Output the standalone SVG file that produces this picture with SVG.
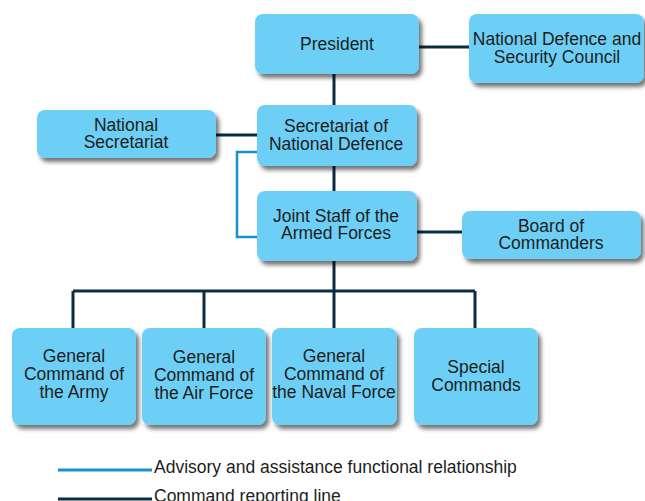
<svg xmlns="http://www.w3.org/2000/svg" width="645" height="501" viewBox="0 0 645 501">
<defs>
<filter id="sh" x="-10%" y="-10%" width="130%" height="140%">
<feDropShadow dx="3" dy="4" stdDeviation="2" flood-color="#000" flood-opacity="0.55"/>
</filter>
<style>
.box{fill:#6dcff6;filter:url(#sh)}
.t{font-family:"Liberation Sans",Arial,sans-serif;font-size:17.5px;fill:#1d1d1b;text-anchor:middle}
.lg{font-family:"Liberation Sans",Arial,sans-serif;font-size:17.5px;fill:#1d1d1b}
.cmd{stroke:#0b2d44;stroke-width:3;fill:none}
.adv{stroke:#1592c8;stroke-width:2.5;fill:none}
</style>
</defs>
<rect width="645" height="501" fill="#fff"/>
<g id="connectors">
<path class="cmd" d="M419 47H469"/>
<path class="cmd" d="M334 74V105"/>
<path class="cmd" d="M216 135H257"/>
<path class="cmd" d="M334 166V191"/>
<path class="cmd" d="M417 232H462"/>
<path class="cmd" d="M334 261V291"/>
<path class="cmd" d="M73 291H475"/>
<path class="cmd" d="M73 291V328M204 291V328M334 291V328M475 291V328"/>
<path class="adv" d="M257 152H237V237H257"/>
</g>
<g id="president"><rect class="box" x="255" y="14" width="164" height="60" rx="8"/><text class="t" x="337" y="50">President</text></g>
<g id="ndsc"><rect class="box" x="469" y="14" width="175" height="69" rx="8"/><text class="t" x="557" y="45">National Defence and</text><text class="t" x="557" y="63">Security Council</text></g>
<g id="national-secretariat"><rect class="box" x="37" y="110" width="179" height="48" rx="8"/><text class="t" x="126" y="131">National</text><text class="t" x="126" y="148">Secretariat</text></g>
<g id="secretariat-defence"><rect class="box" x="257" y="105" width="160" height="61" rx="8"/><text class="t" x="336" y="132">Secretariat of</text><text class="t" x="336" y="150">National Defence</text></g>
<g id="joint-staff"><rect class="box" x="257" y="191" width="160" height="70" rx="8"/><text class="t" x="336" y="222">Joint Staff of the</text><text class="t" x="336" y="239">Armed Forces</text></g>
<g id="board"><rect class="box" x="462" y="211" width="179" height="48" rx="8"/><text class="t" x="551" y="232">Board of</text><text class="t" x="551" y="249">Commanders</text></g>
<g id="army"><rect class="box" x="12" y="328" width="124" height="97" rx="8"/><text class="t" x="74" y="362">General</text><text class="t" x="74" y="380">Command of</text><text class="t" x="74" y="398">the Army</text></g>
<g id="airforce"><rect class="box" x="142" y="328" width="124" height="97" rx="8"/><text class="t" x="204" y="363">General</text><text class="t" x="204" y="381">Command of</text><text class="t" x="204" y="399">the Air Force</text></g>
<g id="naval"><rect class="box" x="272" y="328" width="125" height="97" rx="8"/><text class="t" x="334" y="362">General</text><text class="t" x="334" y="380">Command of</text><text class="t" x="334" y="398">the Naval Force</text></g>
<g id="special"><rect class="box" x="414" y="328" width="124" height="97" rx="8"/><text class="t" x="476" y="373">Special</text><text class="t" x="476" y="391">Commands</text></g>
<g id="legend">
<path d="M58 470H152" stroke="#1592c8" stroke-width="3"/>
<path d="M58 499H152" stroke="#0b2d44" stroke-width="3"/>
<text class="lg" x="154" y="473">Advisory and assistance functional relationship</text>
<text class="lg" x="154" y="502">Command reporting line</text>
</g>
</svg>
